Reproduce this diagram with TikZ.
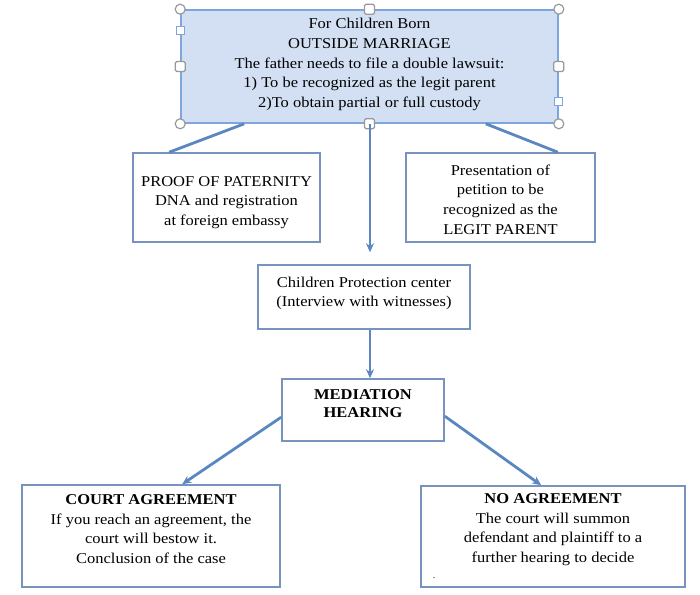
\documentclass[tikz,border=0pt]{standalone}
\usepackage{fontspec}
\setmainfont{Liberation Serif}[FakeStretch=1.1]
\usetikzlibrary{arrows.meta,calc}
\definecolor{edge}{HTML}{7893C0}
\definecolor{link}{HTML}{5B87C0}
\definecolor{topfill}{HTML}{D3E0F3}
\definecolor{topedge}{HTML}{7FA6DA}
\tikzset{
  frame/.style={rectangle,draw=edge,line width=1.6pt,fill=white,inner sep=0pt},
  words/.style={align=center,font=\fontsize{15}{19.6}\selectfont,inner sep=0pt},
  link/.style={draw=link,line width=2.8pt},
  flow/.style={link,-{Stealth[length=9pt,width=8pt]}},
  knob/.style={circle,draw=gray!80,fill=white,line width=1.2pt,minimum size=10pt,inner sep=0pt},
  tab/.style={rectangle,rounded corners=1.5pt,draw=gray!80,fill=white,line width=1.2pt,minimum size=10pt,inner sep=0pt},
  pin/.style={rectangle,draw=topedge,fill=white,line width=0.8pt,minimum size=8pt,inner sep=0pt}
}
\begin{document}
\begin{tikzpicture}[x=1pt,y=-1pt]
\useasboundingbox(0,0)rectangle(700,594);
%boxes
\node[frame,fill=topfill,draw=topedge,minimum width=377pt,minimum height=113pt](top)at(369.5,66.5){};
\node[frame,minimum width=187pt,minimum height=89pt](proof)at(226.5,197.5){};
\node[frame,minimum width=189pt,minimum height=89pt](petition)at(500.5,197.5){};
\node[frame,minimum width=212pt,minimum height=64pt](protect)at(364,297){};
\node[frame,minimum width=162pt,minimum height=62pt](mediate)at(363,410){};
\node[frame,minimum width=258pt,minimum height=102pt](court)at(151,536){};
\node[frame,minimum width=264pt,minimum height=101pt](noagr)at(553,536.5){};
%texts
\node[words](toptxt)at($(top)+(0,-2)$){For Children Born\\OUTSIDE MARRIAGE\\The father needs to file a double lawsuit:\\1) To be recognized as the legit parent\\2)To obtain partial or full custody};
\node[words](prooftxt)at($(proof)+(0,5)$){PROOF OF PATERNITY\\DNA and registration\\at foreign embassy};
\node[words](pettxt)at($(petition)+(0,2)$){Presentation of\\petition to be\\recognized as the\\LEGIT PARENT};
\node[words](prottxt)at($(protect)+(0,-3.5)$){Children Protection center\\(Interview with witnesses)};
\node[words,font=\fontsize{15}{18}\selectfont\bfseries](medtxt)at($(mediate)+(0,-6)$){MEDIATION\\HEARING};
\node[words](courttxt)at($(court)+(0,-7)$){\textbf{COURT AGREEMENT}\\If you reach an agreement, the\\court will bestow it.\\Conclusion of the case};
\node[words](notxt)at($(noagr)+(0,-7)$){\textbf{NO AGREEMENT}\\The court will summon\\defendant and plaintiff to a\\further hearing to decide};
\node[font=\small,inner sep=0pt](dot)at(434,578){.};
%selection handles
\foreach \c in {north west,north east,south west,south east}
  \node[knob]at(top.\c){};
\foreach \c in {north,south,west,east}
  \node[tab]at(top.\c){};
\node[pin]at($(top.north west)+(0,21)$){};
\node[pin]at($(top.south east)+(0,-22)$){};
%connectors
\coordinate(topL)at($(top.south west)+(64,0)$);
\coordinate(topR)at($(top.south east)+(-73,0)$);
\coordinate(topM)at($(top.south)+(0.5,0)$);
\coordinate(proofT)at($(proof.north west)+(37,0)$);
\coordinate(petT)at($(petition.north east)+(-38,0)$);
\coordinate(protT)at($(protect.north)+(6,-12)$);
\coordinate(protB)at($(protect.south)+(6,0)$);
\coordinate(medT)at($(mediate.north)+(7,0)$);
\coordinate(medL)at($(mediate.north west)+(0,39)$);
\coordinate(medR)at($(mediate.north east)+(0,38)$);
\coordinate(courtT)at($(court.north west)+(161,0)$);
\coordinate(noT)at($(noagr.north west)+(121,0)$);
\draw[link](topL)--(proofT);
\draw[link](topR)--(petT);
\draw[flow](topM)--(protT);
\draw[flow](protB)--(medT);
\draw[flow](medL)--(courtT);
\draw[flow](medR)--(noT);
\end{tikzpicture}
\end{document}
